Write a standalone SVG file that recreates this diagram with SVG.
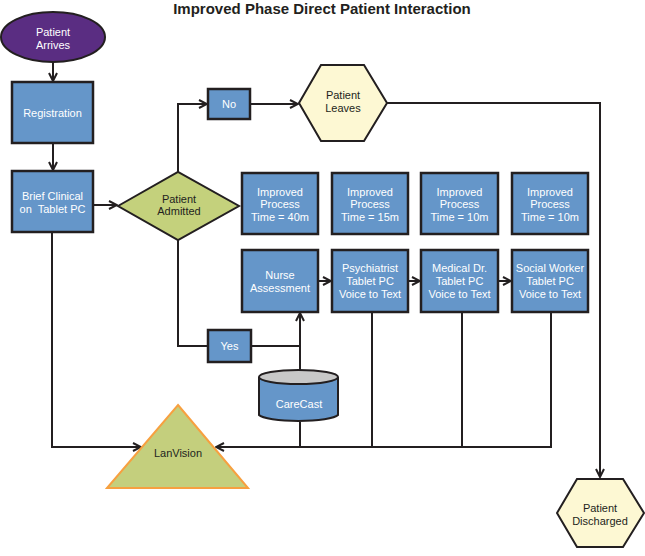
<svg xmlns="http://www.w3.org/2000/svg" width="645" height="556" viewBox="0 0 645 556">
<defs>
<marker id="arr" viewBox="0 0 10 10" refX="9" refY="5" markerWidth="10" markerHeight="10" markerUnits="userSpaceOnUse" orient="auto">
<path d="M1,1 L9,5 L1,9" fill="none" stroke="#231f20" stroke-width="2"/>
</marker>
<style>
.box{fill:#6596c9;stroke:#231f20;stroke-width:2.5}
.wt{fill:#fff;font-family:"Liberation Sans",Arial,sans-serif;font-size:11px;text-anchor:middle}
.dt{fill:#231f20;font-family:"Liberation Sans",Arial,sans-serif;font-size:11px;text-anchor:middle}
.ln{fill:none;stroke:#231f20;stroke-width:2}
.hex{fill:#fdf8d3;stroke:#231f20;stroke-width:2}
</style>
</defs>
<rect width="645" height="556" fill="#fff"/>
<text x="322" y="13.5" font-family="'Liberation Sans',Arial,sans-serif" font-size="15" font-weight="bold" text-anchor="middle" fill="#231f20">Improved Phase Direct Patient Interaction</text>

<g id="connectors">
<line class="ln" x1="53" y1="62" x2="53" y2="81" marker-end="url(#arr)"/>
<line class="ln" x1="53" y1="143" x2="53" y2="170" marker-end="url(#arr)"/>
<line class="ln" x1="93" y1="205" x2="117" y2="205" marker-end="url(#arr)"/>
<polyline class="ln" points="178,172 178,104 207,104" marker-end="url(#arr)"/>
<line class="ln" x1="250" y1="104" x2="298" y2="104" marker-end="url(#arr)"/>
<polyline class="ln" points="387,103 600,103 600,477" marker-end="url(#arr)"/>
<polyline class="ln" points="178,240 178,346 208,346"/>
<line class="ln" x1="251" y1="346" x2="300" y2="346"/>
<line class="ln" x1="300" y1="370" x2="300" y2="313" marker-end="url(#arr)"/>
<line class="ln" x1="318" y1="281" x2="331" y2="281" marker-end="url(#arr)"/>
<line class="ln" x1="408" y1="281" x2="420" y2="281" marker-end="url(#arr)"/>
<line class="ln" x1="498" y1="281" x2="511" y2="281" marker-end="url(#arr)"/>
<polyline class="ln" points="52,232 52,447 141,447" marker-end="url(#arr)"/>
<polyline class="ln" points="551,312 551,447 216,447" marker-end="url(#arr)"/>
<line class="ln" x1="372" y1="312" x2="372" y2="447"/>
<line class="ln" x1="462" y1="312" x2="462" y2="447"/>
<line class="ln" x1="300" y1="422" x2="300" y2="447"/>
</g>

<g id="patient-arrives">
<ellipse cx="53" cy="37" rx="52" ry="25" fill="#5a2d82" stroke="#231f20" stroke-width="2"/>
<text class="wt" x="53" y="36">Patient</text>
<text class="wt" x="53" y="49">Arrives</text>
</g>
<g id="registration">
<rect class="box" x="12" y="82" width="81" height="61"/>
<text class="wt" x="52.5" y="117">Registration</text>
</g>
<g id="brief-clinical">
<rect class="box" x="12" y="171" width="81" height="61"/>
<text class="wt" x="52.5" y="200">Brief Clinical</text>
<text class="wt" x="52.5" y="213" xml:space="preserve">on  Tablet PC</text>
</g>
<g id="patient-admitted">
<polygon points="118,206 178,172 239,206 178,240" fill="#c4d17c" stroke="#231f20" stroke-width="2"/>
<text class="dt" x="179" y="203">Patient</text>
<text class="dt" x="179" y="215">Admitted</text>
</g>
<g id="no">
<rect class="box" x="208" y="89" width="42" height="30"/>
<text class="wt" x="229" y="108">No</text>
</g>
<g id="patient-leaves">
<polygon class="hex" points="299,103 321,65 364,65 387,103 364,141 321,141"/>
<text class="dt" x="343" y="99">Patient</text>
<text class="dt" x="343" y="112">Leaves</text>
</g>
<g id="improved-1">
<rect class="box" x="242" y="173" width="76" height="61"/>
<text class="wt" x="280" y="196">Improved</text>
<text class="wt" x="280" y="208">Process</text>
<text class="wt" x="280" y="221">Time = 40m</text>
</g>
<g id="improved-2">
<rect class="box" x="332" y="173" width="76" height="61"/>
<text class="wt" x="370" y="196">Improved</text>
<text class="wt" x="370" y="208">Process</text>
<text class="wt" x="370" y="221">Time = 15m</text>
</g>
<g id="improved-3">
<rect class="box" x="421" y="173" width="77" height="61"/>
<text class="wt" x="459.5" y="196">Improved</text>
<text class="wt" x="459.5" y="208">Process</text>
<text class="wt" x="459.5" y="221">Time = 10m</text>
</g>
<g id="improved-4">
<rect class="box" x="512" y="173" width="76" height="61"/>
<text class="wt" x="550" y="196">Improved</text>
<text class="wt" x="550" y="208">Process</text>
<text class="wt" x="550" y="221">Time = 10m</text>
</g>
<g id="nurse">
<rect class="box" x="242" y="250" width="76" height="62"/>
<text class="wt" x="280" y="279">Nurse</text>
<text class="wt" x="280" y="292">Assessment</text>
</g>
<g id="psychiatrist">
<rect class="box" x="332" y="250" width="76" height="62"/>
<text class="wt" x="370" y="272">Psychiatrist</text>
<text class="wt" x="370" y="285">Tablet PC</text>
<text class="wt" x="370" y="298">Voice to Text</text>
</g>
<g id="medical">
<rect class="box" x="421" y="250" width="77" height="62"/>
<text class="wt" x="459.5" y="272">Medical Dr.</text>
<text class="wt" x="459.5" y="285">Tablet PC</text>
<text class="wt" x="459.5" y="298">Voice to Text</text>
</g>
<g id="social">
<rect class="box" x="512" y="250" width="76" height="62"/>
<text class="wt" x="550" y="272">Social Worker</text>
<text class="wt" x="550" y="285">Tablet PC</text>
<text class="wt" x="550" y="298">Voice to Text</text>
</g>
<g id="yes">
<rect class="box" x="208" y="330" width="43" height="32"/>
<text class="wt" x="229.5" y="350">Yes</text>
</g>
<g id="carecast">
<path d="M259,377 L259,415 A40,7 0 0 0 338,415 L338,377" fill="#6596c9" stroke="#231f20" stroke-width="2"/>
<ellipse cx="298.5" cy="377" rx="39.5" ry="7" fill="#c8c8c8" stroke="#231f20" stroke-width="2"/>
<text class="wt" x="299" y="408">CareCast</text>
</g>
<g id="lanvision">
<polygon points="178,405 248,488 107,488" fill="#c4cf7d" stroke="#f7a040" stroke-width="2"/>
<text class="dt" x="178" y="457">LanVision</text>
</g>
<g id="patient-discharged">
<polygon class="hex" points="557,513 577,479 623,479 644,513 623,547 577,547"/>
<text class="dt" x="600" y="512">Patient</text>
<text class="dt" x="600" y="525">Discharged</text>
</g>
</svg>
